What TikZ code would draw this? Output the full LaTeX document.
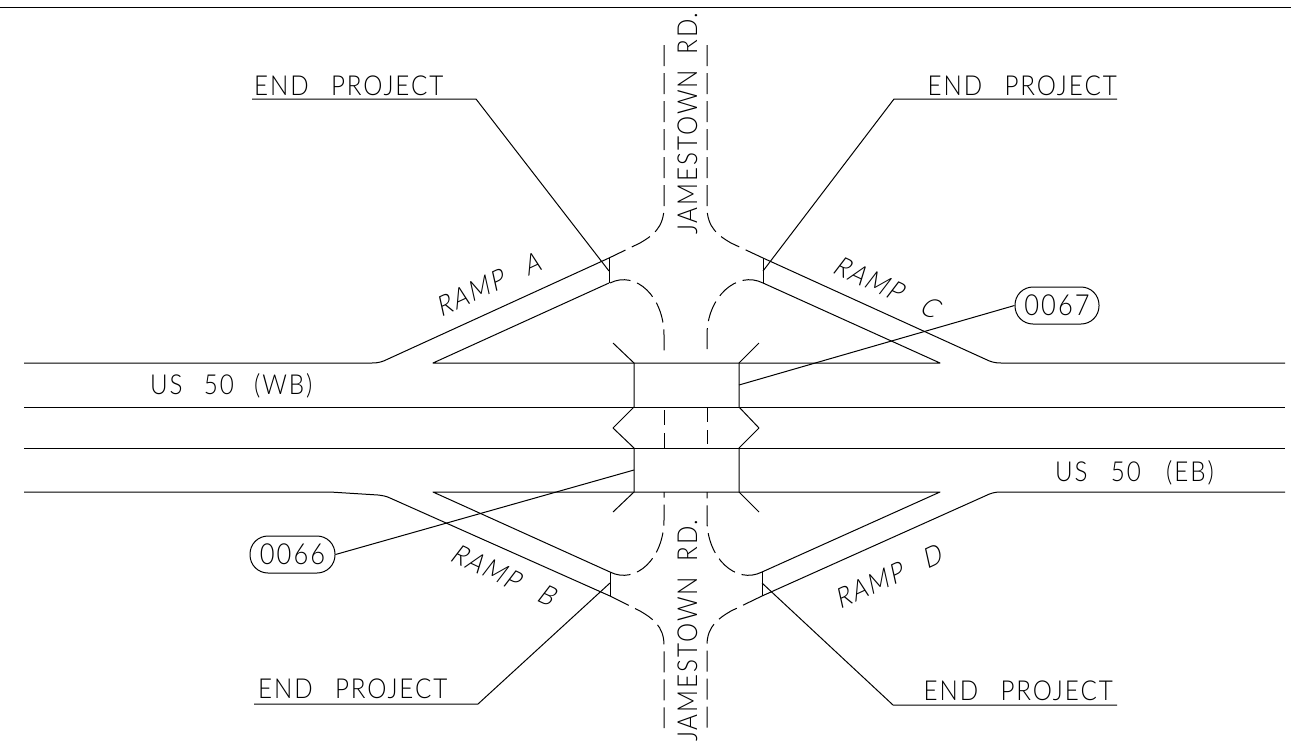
\documentclass[tikz,border=0pt]{standalone}
\usepackage{fontspec}
\newfontfamily\cad[LetterSpace=7,FakeStretch=0.88,WordSpace=1.8]{Lato Light}
\newfontfamily\cads[LetterSpace=7,FakeStretch=0.88,FakeSlant=0.22,WordSpace=1.8]{Lato Light}
\tikzset{
  road/.style={line width=1pt,line join=round},
  cl/.style={line width=1pt,dash pattern=on 21pt off 7pt},
  lbl/.style={font=\cad\fontsize{27.5}{27.5}\selectfont,inner sep=0pt,text=black},
  ramp/.style={font=\cads\fontsize{27.5}{27.5}\selectfont,inner sep=0pt,text=black},
  bubble/.style={draw,line width=1pt,rounded corners=18pt,font=\cad\fontsize{29}{29}\selectfont,inner sep=0pt,minimum height=37pt,text=black}
}
\newcommand{\ep}{END\hspace{7pt} PROJECT}
\begin{document}
\begin{tikzpicture}[x=1pt,y=-1pt]
\useasboundingbox (0,0) rectangle (1291,740);
\draw[road] (0,7) -- (1291,7);
% mainline
\draw[road] (24,363) -- (372,363) .. controls (378,363) and (382,362) .. (388,359) -- (609,258);
\draw[road] (1285,363) -- (1001,363) .. controls (995,363) and (991,362) .. (985,359) -- (763,258);
\draw[road] (24,407) -- (1285,407);
\draw[road] (24,448) -- (1285,448);
\draw[road] (24,492) -- (330,492) -- (378,495) .. controls (382,495.5) and (386,496) .. (390,498) -- (610,596);
\draw[road] (1285,492) -- (1001,492) .. controls (995,492) and (991,493) .. (985,496) -- (762,596);
% triangles
\draw[road] (609,283) -- (433,363) -- (940,363) -- (763,283);
\draw[road] (610,572) -- (433,492) -- (940,492) -- (762,572);
% end ticks
\draw[road] (609,258) -- (609,283);
\draw[road] (763,258) -- (763,283);
\draw[road] (610,572) -- (610,596);
\draw[road] (762,572) -- (762,596);
% bridges
\draw[road] (613,343) -- (634,363) -- (634,407) -- (613,428) -- (634,448) -- (634,492) -- (613,512);
\draw[road] (759,343) -- (739,363) -- (739,407) -- (759,428) -- (739,448) -- (739,492) -- (759,512);
% Jamestown Rd centre pieces
\draw[cl] (664,45) -- (664,207) .. controls (664,228) and (652,236) .. (640,243) -- (609,258);
\draw[cl] (707,45) -- (707,207) .. controls (707,228) and (719,236) .. (731,243) -- (763,258);
\draw[cl] (610,283) .. controls (636,270) and (664,297) .. (664,335) -- (664,356);
\draw[cl] (763,283) .. controls (737,270) and (707,297) .. (707,335) -- (707,356);
\draw[road] (664,410) -- (664,425) (664,433) -- (664,448);
\draw[road] (707,407) -- (707,422) (707,430) -- (707,444);
\draw[cl] (610,572) .. controls (636,585) and (664,558) .. (664,520) -- (664,492);
\draw[cl] (762,572) .. controls (736,585) and (707,558) .. (707,520) -- (707,492);
\draw[cl] (610,596) -- (640,611) .. controls (652,618) and (664,626) .. (664,645) -- (664,728);
\draw[cl] (762,596) -- (731,611) .. controls (719,618) and (707,626) .. (707,645) -- (707,728);
% leaders
\draw[road] (252,99) -- (476,99) -- (609,271);
\draw[road] (1117,99) -- (894,99) -- (763,271);
\draw[road] (254,704) -- (478,704) -- (610,583);
\draw[road] (1117,705) -- (893,705) -- (762,583);
% labels
\node[lbl,anchor=base west] (ep1) at (254,95) {\ep};
\node[lbl,anchor=base east] (ep2) at (1117,95) {\ep};
\node[lbl,anchor=base west] (ep3) at (258,698) {\ep};
\node[lbl,anchor=base east] (ep4) at (1113,700) {\ep};
\node[lbl,rotate=90,anchor=base west] (j1) at (697,235) {JAMESTOWN RD.};
\node[lbl,rotate=90,anchor=base west] (j2) at (697,742) {JAMESTOWN RD.};
\node[lbl,anchor=base west] (us1) at (150,394) {US\hspace{6pt} 50\hspace{5pt} (WB)};
\node[lbl,anchor=base west] (us2) at (1055,481) {US\hspace{8pt} 50\hspace{10pt} (EB)};
\node[ramp,rotate=25] (ra) at (488,285) {RAMP\hspace{8pt} A};
\node[ramp,rotate=-25] (rc) at (886,287) {RAMP\hspace{8pt} C};
\node[ramp,rotate=-25] (rb) at (503,575) {RAMP\hspace{8pt} B};
\node[ramp,rotate=25] (rd) at (888,577) {RAMP\hspace{8pt} D};
\node[bubble,minimum width=84pt] (b67) at (1057,305.5) {0067};
\node[bubble,minimum width=85pt] (b66) at (292.5,554.5) {0066};
\draw[road] (739,385) -- (b67.west);
\draw[road] (634,470) -- (b66.east);
\end{tikzpicture}
\end{document}
